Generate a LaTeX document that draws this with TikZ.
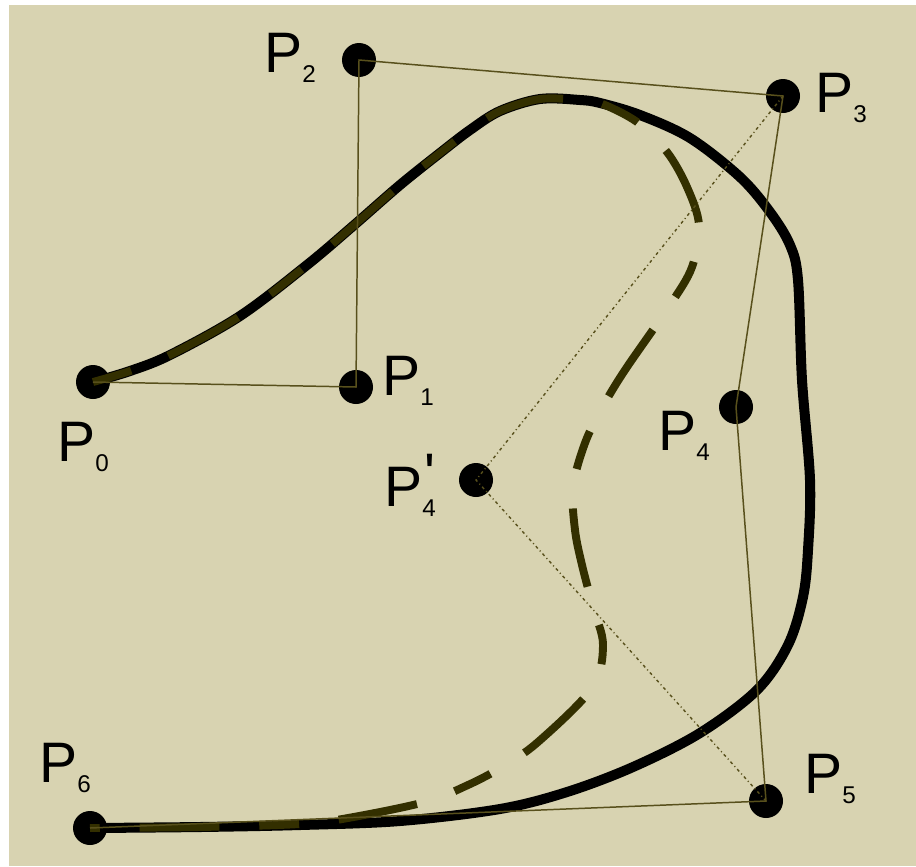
\documentclass[tikz,border=0pt]{standalone}
\usepackage{fontspec}
\setmainfont{Liberation Sans}
\definecolor{paper}{RGB}{216,211,177}
\definecolor{polyline}{RGB}{88,80,28}
\definecolor{dashcurve}{RGB}{51,47,0}
\newcommand{\ptlabel}[1]{P\raisebox{-5.7pt}{\fontsize{13.8}{14}\selectfont #1}}
\newcommand{\ptlabelprime}[1]{P\rlap{\kern1.2pt\raisebox{7.4pt}{\textquotesingle}}\raisebox{-5.7pt}{\fontsize{13.8}{14}\selectfont #1}}

\begin{document}
\begin{tikzpicture}[x=0.02cm, y=-0.02cm,
    ctrldot/.style={circle, fill=black, inner sep=0pt, minimum size=0.68cm},
    ptname/.style={anchor=base west, inner sep=0pt, font=\fontsize{32.5}{34}\selectfont},
    hull/.style={polyline, line width=0.85pt},
    hullnew/.style={polyline, line width=0.8pt, dash pattern=on 1.7pt off 1.7pt on 0.6pt off 1.7pt},
    curveold/.style={black, line width=5.7pt},
    curvenew/.style={dashcurve, line width=4.5pt, dash pattern=on 22.7pt off 22.7pt on 45.4pt off 22.7pt}]
    % Hintergrund
    \fill[white] (0,0) rectangle (916,866);
    \fill[paper] (9,5) rectangle (916,866);
    \useasboundingbox (0,0) rectangle (916,866);

    % Kontrollpunkte
    \node[ctrldot] (p0) at (93,382) {};
    \node[ctrldot] (p1) at (356,387) {};
    \node[ctrldot] (p2) at (359,60) {};
    \node[ctrldot] (p3) at (783,96) {};
    \node[ctrldot] (p4) at (736,407) {};
    \node[ctrldot] (p4n) at (476,480) {};
    \node[ctrldot] (p5) at (766,801) {};
    \node[ctrldot] (p6) at (90,828) {};

    % urspruengliche Kurve
    \draw[curveold] plot[smooth, tension=0.55] coordinates {
        (93,382) (130,371) (170,355) (240,316) (307,265) (353,226) (400,185)
        (440,153) (470,130) (500,111) (540,99) (580,100) (600,103) (640,115)
        (690,138) (740,177) (770,212) (790,245) (798,280) (802,380) (810,480)
        (808,550) (803,597) (788,645) (757,690) (700,733) (633,767) (567,792)
        (500,809) (400,821) (300,825) (200,827) (90,828)};

    % Kurve mit verschobenem P4
    \draw[curvenew] plot[smooth, tension=0.55] coordinates {
        (93,382) (130,371) (170,355) (240,316) (307,265) (353,226) (400,185)
        (440,153) (470,130) (500,111) (540,99) (580,100) (600,103) (637,122)
        (667,152) (687,187) (699,225) (692,267) (670,305) (625,370) (602,408)
        (585,443) (573,487) (575,530) (582,565) (593,607) (603,645) (592,688)
        (538,742) (502,767) (468,785) (425,802) (348,818) (300,824) (200,827)
        (90,828)};

    % Kontrollpolygon
    \draw[hull] (p0.center) -- (p1.center) -- (p2.center) -- (p3.center)
        -- (p4.center) -- (p5.center) -- (p6.center);
    \draw[hullnew] (p3.center) -- (p4n.center) -- (p5.center);

    % Beschriftungen
    \node[ptname] (l0) at (57,461) {\ptlabel{0}};
    \node[ptname] (l1) at (382,395) {\ptlabel{1}};
    \node[ptname] (l2) at (264,72) {\ptlabel{2}};
    \node[ptname] (l3) at (815,112) {\ptlabel{3}};
    \node[ptname] (l4) at (658,450) {\ptlabel{4}};
    \node[ptname] (l4n) at (384,506) {\ptlabelprime{4}};
    \node[ptname] (l5) at (804,793) {\ptlabel{5}};
    \node[ptname] (l6) at (39,782) {\ptlabel{6}};
\end{tikzpicture}
\end{document}
